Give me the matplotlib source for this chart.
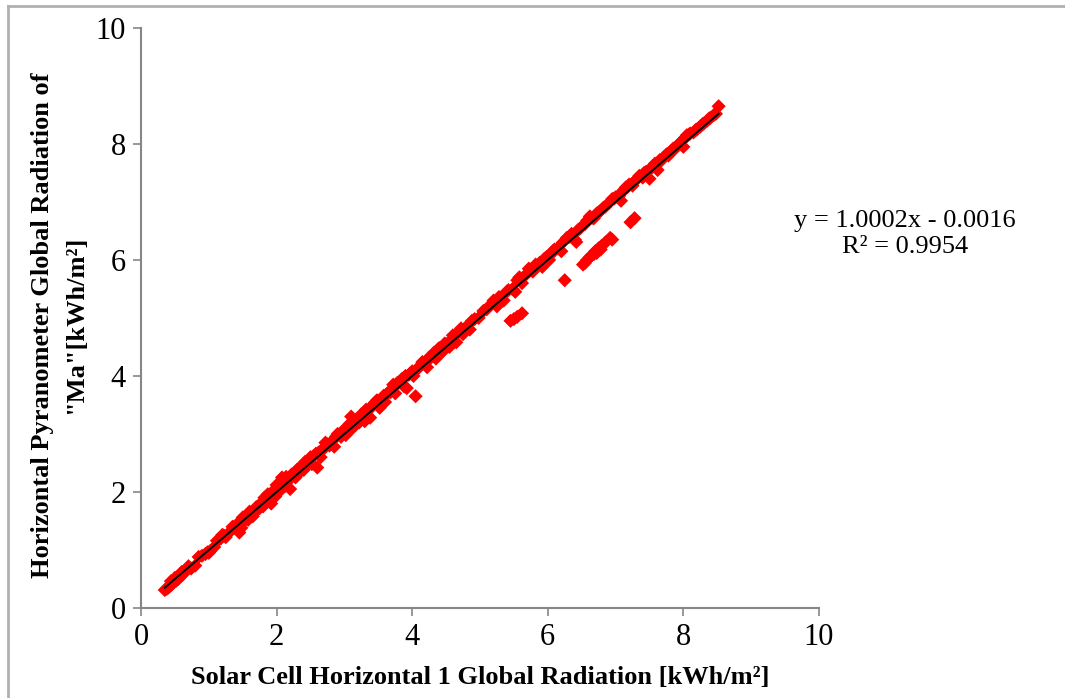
import matplotlib
matplotlib.use("Agg")
import matplotlib.pyplot as plt
from matplotlib.lines import Line2D

plt.rcParams["font.family"] = ["Liberation Serif", "DejaVu Serif"]

# Daily global radiation: solar cell (x) vs. pyranometer (y), kWh/m²
solar_cell = [
    0.35, 0.38, 0.40, 0.42, 0.45, 0.48, 0.52, 0.55, 0.58, 0.62, 0.70, 0.74, 0.80, 0.90, 0.95, 1.00, 1.02, 1.08,
    1.15, 1.18, 1.22, 1.25, 1.30, 1.38, 1.42, 1.45, 1.48, 1.52, 1.55, 1.58, 1.62, 1.65, 1.68, 1.72, 1.75, 1.78,
    1.80, 1.85, 1.88, 1.90, 1.92, 1.95, 1.98, 2.02, 2.05, 2.08, 2.10, 2.12, 2.15, 2.18, 2.20, 2.25, 2.28,
    2.32, 2.35, 2.38, 2.40, 2.45, 2.48, 2.52, 2.55, 2.60, 2.62, 2.65, 2.70, 2.72, 2.78, 2.82, 2.85, 2.90, 2.95, 3.00,
    3.02, 3.05, 3.10, 3.12, 3.18, 3.22, 3.28, 3.30, 3.35, 3.38, 3.42, 3.48, 3.52, 3.55, 3.60, 3.62, 3.68, 3.72,
    3.75, 3.80, 3.85, 3.88, 3.92, 3.95, 3.98, 4.02, 4.05, 4.08,
    4.12, 4.18, 4.22, 4.28, 4.32, 4.35, 4.40, 4.45, 4.50, 4.55, 4.58, 4.62, 4.65, 4.70, 4.75, 4.80, 4.85, 4.92, 4.98,
    5.10, 5.20, 5.25, 5.30, 5.35, 5.42, 5.48, 5.52, 5.55, 5.58, 5.62, 5.68, 5.72, 5.78, 5.82, 5.88, 5.92, 5.98,
    6.02, 6.05, 5.45, 5.50, 5.55, 5.62,
    6.10, 6.15, 6.20, 6.28, 6.35, 6.40, 6.42, 6.48, 6.55, 6.62, 6.67, 6.68, 6.72, 6.78, 6.85, 6.90, 6.95, 7.00,
    7.05, 7.08,
    6.25, 6.52, 6.55, 6.58, 6.62, 6.65, 6.68, 6.70, 6.72, 6.75, 6.78, 6.80, 6.85, 6.92, 6.95, 7.22, 7.28,
    7.12, 7.15, 7.20, 7.25, 7.30, 7.35, 7.40, 7.45, 7.50, 7.55, 7.60, 7.62, 7.68, 7.72, 7.78, 7.82, 7.88, 7.92,
    7.98, 8.02, 8.05, 8.10, 8.15, 8.20, 8.25, 8.30, 8.35, 8.40, 8.45, 8.52, 7.50, 8.00,
    0.44, 0.50, 0.60, 0.66, 0.85, 0.98, 1.12, 1.20, 1.35, 1.40, 1.50, 1.60, 1.70, 1.82, 1.87, 1.97, 2.00, 2.14,
    2.22, 2.30, 2.42, 2.50, 2.58, 2.68, 2.75, 2.88, 2.98, 3.08, 3.15, 3.25, 3.32, 3.45, 3.58, 3.65, 3.78, 3.90,
    4.00, 4.15, 4.25, 4.38, 4.48, 4.60, 4.72, 4.88, 5.05, 5.15, 5.28, 5.40, 5.60, 5.75, 5.85, 5.95, 6.08, 6.22,
    6.32, 6.45, 6.58, 6.75, 6.82, 6.98, 7.10, 7.18, 7.32, 7.42, 7.58, 7.65, 7.75, 7.85, 7.95, 8.08, 8.18, 8.28,
    8.38, 8.48,
]
pyranometer = [
    0.31, 0.33, 0.35, 0.37, 0.40, 0.44, 0.47, 0.50, 0.55, 0.58, 0.72, 0.68, 0.73, 0.90, 0.93, 0.95, 0.98, 1.05,
    1.18, 1.20, 1.25, 1.22, 1.30, 1.40, 1.45, 1.30, 1.38, 1.50, 1.55, 1.52, 1.60, 1.58, 1.68, 1.70, 1.72, 1.82,
    1.75, 1.90, 1.85, 1.95, 1.80, 1.98, 1.92, 2.08, 2.02, 2.25, 2.15, 2.10, 2.22, 2.20, 2.05, 2.30, 2.25,
    2.40, 2.35, 2.45, 2.38, 2.50, 2.55, 2.48, 2.62, 2.42, 2.68, 2.60, 2.75, 2.85, 2.80, 2.88, 2.78, 3.00, 2.95, 3.05,
    2.98, 3.12, 3.30, 3.10, 3.25, 3.20, 3.35, 3.22, 3.40, 3.28, 3.50, 3.58, 3.45, 3.60, 3.55, 3.68, 3.72, 3.85,
    3.70, 3.88, 3.95, 3.82, 3.79, 4.02, 4.05, 4.00, 3.65, 4.12,
    4.18, 4.22, 4.15, 4.32, 4.40, 4.30, 4.48, 4.42, 4.55, 4.50, 4.62, 4.68, 4.58, 4.78, 4.72, 4.85, 4.80, 4.98, 5.00,
    5.15, 5.30, 5.20, 5.35, 5.30, 5.48, 5.50, 5.45, 5.65, 5.70, 5.60, 5.75, 5.85, 5.80, 5.92, 5.95, 5.88, 6.05,
    6.00, 6.10, 4.95, 4.98, 5.02, 5.08,
    6.18, 6.20, 6.15, 6.38, 6.45, 6.35, 6.31, 6.55, 6.62, 6.75, 6.72, 6.72, 6.80, 6.85, 6.92, 6.98, 7.05, 7.08,
    7.10, 7.02,
    5.65, 5.92, 5.95, 6.00, 6.05, 6.08, 6.10, 6.15, 6.12, 6.20, 6.18, 6.25, 6.30, 6.38, 6.35, 6.65, 6.72,
    7.20, 7.25, 7.30, 7.28, 7.38, 7.45, 7.42, 7.52, 7.55, 7.62, 7.65, 7.55, 7.72, 7.78, 7.80, 7.88, 7.92, 7.98,
    8.05, 8.10, 8.15, 8.18, 8.20, 8.25, 8.30, 8.35, 8.40, 8.45, 8.50, 8.65, 7.40, 7.95,
    0.46, 0.52, 0.62, 0.65, 0.88, 0.96, 1.16, 1.26, 1.40, 1.38, 1.56, 1.66, 1.74, 1.90, 1.96, 2.04, 2.12, 2.26,
    2.30, 2.38, 2.52, 2.60, 2.66, 2.74, 2.82, 2.96, 3.06, 3.18, 3.22, 3.34, 3.42, 3.54, 3.66, 3.72, 3.88, 4.00,
    4.08, 4.24, 4.32, 4.46, 4.56, 4.70, 4.82, 4.95, 5.12, 5.22, 5.36, 5.46, 5.68, 5.82, 5.90, 6.02, 6.16, 6.30,
    6.40, 6.52, 6.68, 6.82, 6.90, 7.06, 7.18, 7.26, 7.40, 7.50, 7.66, 7.72, 7.82, 7.92, 8.02, 8.16, 8.24, 8.34,
    8.44, 8.52,
]

# Linear trend line coefficients and fit quality
slope = 1.0002
intercept = -0.0016
r_squared = 0.9954

axis_ticks = [0, 2, 4, 6, 8, 10]

fig = plt.figure(figsize=(10.65, 6.98), dpi=100)
ax = fig.add_axes([0.1324, 0.129, 0.6366, 0.831])

ax.scatter(solar_cell, pyranometer, marker="D", s=52, color="#ff0000",
           edgecolors="none", zorder=2)

x_fit = [min(solar_cell), max(solar_cell)]
y_fit = [slope * v + intercept for v in x_fit]
ax.plot(x_fit, y_fit, color="black", lw=1.4, zorder=3)

ax.set_xlim(0, 10)
ax.set_ylim(0, 10)
ax.set_xticks(axis_ticks)
ax.set_yticks(axis_ticks)
ax.tick_params(axis="both", direction="out", length=6, width=1.2,
               color="#868686", labelsize=22, pad=5)
for side in ("top", "right"):
    ax.spines[side].set_visible(False)
for side in ("left", "bottom"):
    ax.spines[side].set_color("#868686")
    ax.spines[side].set_linewidth(1.5)

ax.set_xlabel("Solar Cell Horizontal 1 Global Radiation [kWh/m²]",
              fontsize=19, fontweight="bold", labelpad=10)
ax.set_ylabel("Horizontal Pyranometer Global Radiation of\n\"Ma\"[kWh/m²]",
              fontsize=19, fontweight="bold", linespacing=1.6,
              ha="center", va="center")
ax.yaxis.set_label_coords(-0.121, 0.488)

fig.text(0.850, 0.665,
         f"y = {slope:.4f}x - {abs(intercept):.4f}\nR² = {r_squared:.4f}",
         ha="center", va="center", fontsize=19, linespacing=1.25)

# Thin frame around the chart area
fig.add_artist(Line2D([8 / 1065, 1.0], [1 - 6 / 698, 1 - 6 / 698],
                      transform=fig.transFigure, color="#b0b0b0", lw=2))
fig.add_artist(Line2D([8 / 1065, 8 / 1065], [0.0, 1 - 6 / 698],
                      transform=fig.transFigure, color="#b0b0b0", lw=2))

fig.savefig("out.png", dpi=100)
